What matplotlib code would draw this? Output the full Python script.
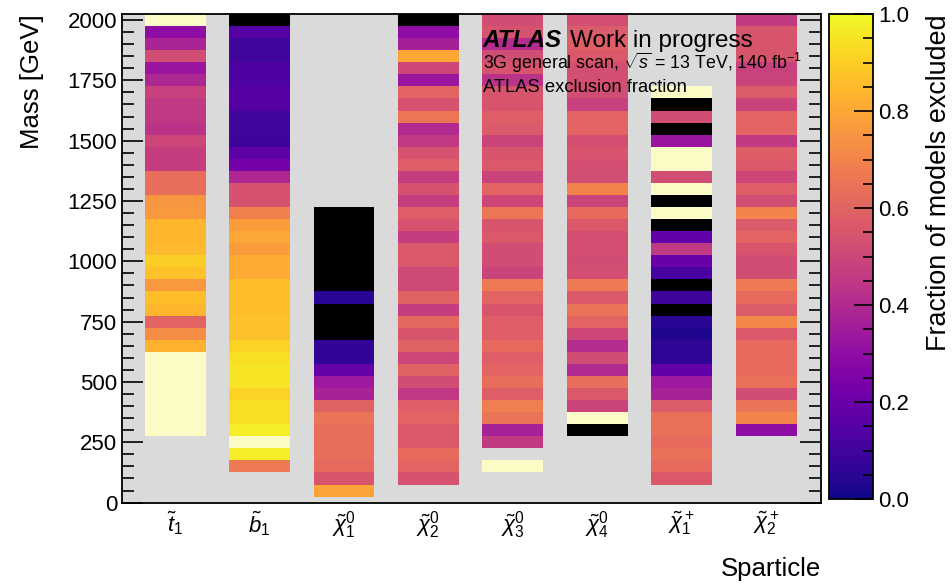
import numpy as np
import matplotlib
matplotlib.use("Agg")
import matplotlib.pyplot as plt
from matplotlib.colors import Normalize
from matplotlib.cm import ScalarMappable
from matplotlib.ticker import MultipleLocator

plt.rcParams['font.family'] = 'Liberation Sans'
plt.rcParams['mathtext.fontset'] = 'custom'
plt.rcParams['mathtext.rm'] = 'Liberation Sans'
plt.rcParams['mathtext.it'] = 'Liberation Sans:italic'
plt.rcParams['mathtext.bf'] = 'Liberation Sans:bold'

# sparticles on the x axis
sparticles = [r'$\tilde{t}_1$', r'$\tilde{b}_1$', r'$\tilde{\chi}_1^0$', r'$\tilde{\chi}_2^0$',
              r'$\tilde{\chi}_3^0$', r'$\tilde{\chi}_4^0$', r'$\tilde{\chi}_1^+$', r'$\tilde{\chi}_2^+$']

# 50 GeV mass bins, listed from the highest filled bin downwards
bin_width = 50
top_mass = [2000, 2000, 1200, 2000, 2000, 2000, 1700, 2000]

t1_frac = [1.0, 0.30, 0.38, 0.52, 0.33, 0.39, 0.48, 0.45, 0.45, 0.43,
           0.50, 0.47, 0.47, 0.63, 0.63, 0.75, 0.76, 0.84, 0.84, 0.85,
           0.90, 0.87, 0.76, 0.86, 0.84, 0.60, 0.73, 0.83,
           1.0, 1.0, 1.0, 1.0, 1.0, 1.0, 1.0]
b1_frac = [0.0, 0.15, 0.10, 0.10, 0.13, 0.13, 0.15, 0.15, 0.10, 0.10,
           0.09, 0.17, 0.23, 0.39, 0.54, 0.54, 0.69, 0.77, 0.80, 0.77,
           0.81, 0.81, 0.86, 0.86, 0.86, 0.87, 0.87, 0.91, 0.94, 0.95,
           0.95, 0.91, 0.94, 0.94, 0.97, 1.0, 0.97, 0.67]
n1_frac = [0.0, 0.0, 0.0, 0.0, 0.0, 0.0, 0.0, 0.05, 0.0, 0.0,
           0.0, 0.07, 0.07, 0.19, 0.34, 0.37, 0.59, 0.65, 0.63, 0.63,
           0.63, 0.62, 0.55, 0.79]
n2_frac = [0.0, 0.30, 0.36, 0.80, 0.50, 0.33, 0.60, 0.54, 0.66, 0.40,
           0.45, 0.54, 0.58, 0.47, 0.54, 0.47, 0.58, 0.54, 0.47, 0.56,
           0.56, 0.51, 0.51, 0.59, 0.47, 0.61, 0.55, 0.59, 0.50, 0.59,
           0.52, 0.45, 0.58, 0.60, 0.56, 0.56, 0.62, 0.60, 0.54]
n3_frac = [0.52, 0.54, 0.41, 0.52, 0.55, 0.43, 0.55, 0.55, 0.58, 0.57,
           0.49, 0.55, 0.56, 0.49, 0.60, 0.50, 0.66, 0.55, 0.56, 0.52,
           0.52, 0.49, 0.67, 0.60, 0.55, 0.58, 0.58, 0.62, 0.58, 0.60,
           0.63, 0.58, 0.68, 0.65, 0.37, 0.46, np.nan, 1.0]
n4_frac = [0.53, 0.57, 0.58, 0.56, 0.53, 0.53, 0.52, 0.48, 0.60, 0.60,
           0.53, 0.55, 0.53, 0.52, 0.70, 0.49, 0.62, 0.56, 0.53, 0.53,
           0.52, 0.53, 0.67, 0.56, 0.65, 0.60, 0.50, 0.41, 0.52, 0.40,
           0.63, 0.56, 0.49, 1.0, 0.0]
c1_frac = [1.0, 0.0, 0.52, 0.0, 0.33, 1.0, 1.0, 0.52, 1.0, 0.0,
           1.0, 0.0, 0.18, 0.45, 0.20, 0.12, 0.0, 0.09, 0.0, 0.05,
           0.03, 0.06, 0.06, 0.18, 0.34, 0.37, 0.57, 0.64, 0.64, 0.62,
           0.64, 0.62, 0.56]
c2_frac = [0.46, 0.55, 0.55, 0.55, 0.48, 0.49, 0.57, 0.49, 0.60, 0.60,
           0.46, 0.58, 0.56, 0.50, 0.58, 0.52, 0.70, 0.57, 0.60, 0.55,
           0.52, 0.52, 0.67, 0.62, 0.57, 0.71, 0.56, 0.62, 0.62, 0.62,
           0.64, 0.52, 0.65, 0.70, 0.30]

columns = [t1_frac, b1_frac, n1_frac, n2_frac, n3_frac, n4_frac, c1_frac, c2_frac]

mass_edges = np.arange(25, 2026, bin_width)
mass_centers = 0.5 * (mass_edges[1:] + mass_edges[:-1])
grid = np.full((len(mass_centers), len(columns)), np.nan)
for i, (top, vals) in enumerate(zip(top_mass, columns)):
    for k, v in enumerate(vals):
        j = np.argmin(np.abs(mass_centers - (top - k * bin_width)))
        grid[j, i] = v

# exactly 0 -> black, exactly 1 -> pale yellow
cmap = plt.get_cmap('plasma').with_extremes(under='black', over='#fbfbc5', bad='none')
norm = Normalize(vmin=1e-6, vmax=1 - 1e-6)

fig = plt.figure(figsize=(9.52, 5.84), dpi=100)
W, H = 952, 584
ax = fig.add_axes([122 / W, 1 - 502.6 / H, 699 / W, 488.6 / H])
ax.set_facecolor('#dadada')

half = 0.36
for i in range(len(columns)):
    ax.pcolormesh([i - half, i + half], mass_edges, grid[:, [i]], cmap=cmap, norm=norm)

ax.set_xlim(-0.63, 7.65)
ax.set_ylim(0, 2025)
ax.set_xticks(range(len(sparticles)))
ax.set_xticklabels(sparticles, fontsize=16)
ax.tick_params(axis='x', length=0, pad=5)
ax.yaxis.set_major_locator(MultipleLocator(250))
ax.yaxis.set_minor_locator(MultipleLocator(50))
ax.tick_params(axis='y', which='both', direction='in', left=True, right=True, labelsize=16, width=1.2)
ax.tick_params(axis='y', which='major', length=15)
ax.tick_params(axis='y', which='minor', length=8.5)
for s in ax.spines.values():
    s.set_linewidth(1.3)

ax.set_ylabel('Mass [GeV]', loc='top', fontsize=18.5, labelpad=17)
ax.set_xlabel('Sparticle', loc='right', fontsize=18.5, labelpad=11)

cax = fig.add_axes([829 / W, 1 - 499 / H, 44 / W, 485 / H])
cb = fig.colorbar(ScalarMappable(norm=Normalize(0, 1), cmap='plasma'), cax=cax)
cb.set_ticks(np.arange(0, 1.01, 0.2))
cb.ax.yaxis.set_minor_locator(MultipleLocator(0.05))
cb.ax.tick_params(which='both', direction='in', labelsize=16, width=1.2)
cb.ax.tick_params(which='major', length=14)
cb.ax.tick_params(which='minor', length=7)
cb.outline.set_linewidth(1.3)
cb.set_label('Fraction of models excluded', loc='top', fontsize=19.4, labelpad=12)

fig.text(483 / W, 1 - 46.7 / H, 'ATLAS', fontsize=17.5, fontweight='bold', style='italic', va='baseline')
fig.text(570 / W, 1 - 46.7 / H, 'Work in progress', fontsize=17.5, va='baseline')
fig.text(483 / W, 1 - 69 / H, r'3G general scan, $\sqrt{s}$ = 13 TeV, 140 fb$^{-1}$', fontsize=12.8, va='baseline')
fig.text(483 / W, 1 - 91.7 / H, 'ATLAS exclusion fraction', fontsize=13.2, va='baseline')

fig.savefig('out.png', dpi=100)
